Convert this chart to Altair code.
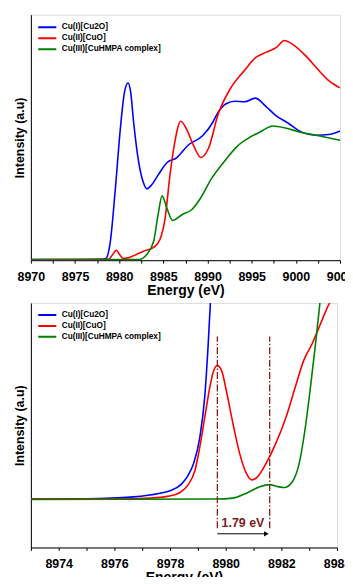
import altair as alt
import pandas as pd

FONT = "Liberation Sans"
series = ["Cu(I)[Cu2O]", "Cu(II)[CuO]", "Cu(III)[CuHMPA complex]"]
colors = ["#0000FF", "#FF0000", "#008000"]

# ---- top panel: full XANES (normalised intensity)
top_e_blue = [8970, 8976, 8978.0, 8978.5, 8979.0, 8979.57, 8980.13, 8980.6, 8981.0, 8981.3, 8981.63,
              8982.2, 8982.7, 8983.13, 8983.6, 8984.5, 8985.4, 8986.5, 8987.8, 8989.5, 8990.6, 8991.0,
              8992.1, 8993.1, 8994.2, 8995.4, 8996.6, 8997.7, 8999.1, 9000.7, 9002.3, 9003.7, 9005]
top_i_blue = [0.005, 0.005, 0.006, 0.012, 0.131, 0.498, 0.911, 1.163, 1.227, 1.163, 0.957,
              0.681, 0.544, 0.494, 0.516, 0.599, 0.675, 0.709, 0.796, 0.865, 0.955, 1.003,
              1.083, 1.100, 1.097, 1.122, 1.065, 1.003, 0.950, 0.885, 0.865, 0.870, 0.895]

top_e_red = [8970, 8978.8, 8979.2, 8979.68, 8980.1, 8980.5, 8981.0, 8982.0, 8982.75, 8983.9, 8984.6,
             8985.2, 8985.75, 8986.3, 8986.96, 8987.6, 8988.4, 8989.25, 8990.1, 8991.2, 8992.6,
             8994.2, 8995.4, 8996.6, 8997.8, 8998.7, 8999.6, 9001.1, 9002.6, 9003.8, 9005]
top_i_red = [0.005, 0.006, 0.034, 0.069, 0.034, 0.012, 0.016, 0.041, 0.062, 0.089, 0.142,
             0.291, 0.590, 0.819, 0.962, 0.911, 0.796, 0.711, 0.773, 1.010, 1.190,
             1.315, 1.400, 1.439, 1.473, 1.521, 1.496, 1.416, 1.313, 1.239, 1.193]

top_e_green = [8970, 8982.2, 8982.7, 8983.1, 8983.9, 8984.4, 8984.86, 8985.4, 8986.06, 8987.1, 8988.2,
               8989.2, 8990.4, 8991.9, 8993.3, 8994.5, 8995.95, 8997.4, 8998.8, 9000.4, 9002.3, 9005]
top_i_green = [0.003, 0.004, 0.014, 0.039, 0.131, 0.315, 0.445, 0.360, 0.275, 0.315, 0.349,
               0.429, 0.560, 0.683, 0.785, 0.840, 0.888, 0.929, 0.915, 0.888, 0.865, 0.831]

# ---- bottom panel: pre-edge region (zoomed, own intensity units)
bot_e_blue = [8973, 8975, 8976.69, 8977.64, 8978.0, 8978.4, 8978.65, 8978.85, 8979.07, 8979.25,
              8979.37, 8979.45, 8979.55, 8979.65]
bot_i_blue = [0.198, 0.199, 0.207, 0.222, 0.232, 0.258, 0.295, 0.345, 0.45, 0.62,
              0.83, 1.0, 1.25, 1.5]

bot_e_red = [8973, 8976, 8977.3, 8977.9, 8978.36, 8978.65, 8978.9, 8979.07, 8979.25, 8979.43, 8979.55,
             8979.69, 8979.85, 8980.02, 8980.26, 8980.5, 8980.74, 8980.94, 8981.15, 8981.45, 8981.8,
             8982.17, 8982.5, 8982.8, 8983.1, 8983.4, 8983.65, 8983.77, 8984]
bot_i_red = [0.198, 0.198, 0.202, 0.209, 0.225, 0.256, 0.317, 0.412, 0.534, 0.656, 0.717,
             0.744, 0.724, 0.642, 0.507, 0.385, 0.304, 0.276, 0.290, 0.344, 0.426,
             0.534, 0.656, 0.764, 0.832, 0.913, 0.981, 1.008, 1.06]

bot_e_green = [8973, 8979.67, 8980.26, 8980.74, 8981.2, 8981.57, 8981.87, 8982.1, 8982.4, 8982.64,
               8982.88, 8983.06, 8983.24, 8983.38, 8983.5]
bot_i_green = [0.196, 0.198, 0.202, 0.222, 0.247, 0.257, 0.249, 0.245, 0.270, 0.344,
               0.507, 0.670, 0.846, 0.995, 1.12]

# ---- annotation of the bottom panel
peak_e = [8979.7, 8981.58]
guide_lo, guide_hi = 0.079, 0.863
arrow_y = 0.056
shift_label = "1.79 eV"
label_e, label_y = 8980.62, 0.10

top_ticks = [8970 + 2.5 * i for i in range(15)]
bot_ticks = list(range(8973, 8985))


def frame(es, is_, name):
    return pd.DataFrame({"energy": es, "intensity": is_, "series": name})


top_df = pd.concat([frame(top_e_blue, top_i_blue, series[0]),
                    frame(top_e_red, top_i_red, series[1]),
                    frame(top_e_green, top_i_green, series[2])])
bot_df = pd.concat([frame(bot_e_blue, bot_i_blue, series[0]),
                    frame(bot_e_red, bot_i_red, series[1]),
                    frame(bot_e_green, bot_i_green, series[2])])


def legend(ly):
    return alt.Legend(title=None, orient="none", legendX=6, legendY=ly, symbolType="stroke",
                      symbolSize=330, symbolStrokeWidth=2, labelFont=FONT, labelFontSize=8.3,
                      labelFontWeight="bold", labelOffset=4, rowPadding=0, clipHeight=10.2,
                      padding=0, labelColor="black")


def x_axis(ticks, step):
    return alt.Axis(title="Energy (eV)", values=ticks, tickSize=3, labelPadding=7,
                    labelExpr=f"datum.value % {step} == 0 ? format(datum.value, 'd') : ''",
                    labelFlush=False, labelOverlap=False, labelBound=False, grid=False,
                    labelFont=FONT, labelFontSize=12.5, labelFontWeight="bold", labelColor="black",
                    titleFont=FONT, titleFontSize=14, titleFontWeight="bold", titleColor="black",
                    titlePadding=1, domainColor="black", tickColor="black")


def y_axis():
    return alt.Axis(title="Intensity (a.u)", labels=False, ticks=False, grid=False,
                    titleFont=FONT, titleFontSize=12.5, titleFontWeight="bold", titleColor="black",
                    titlePadding=4, domainColor="black")


def color(ly):
    return alt.Color("series:N", scale=alt.Scale(domain=series, range=colors), legend=legend(ly))


def xb(field="energy"):
    return alt.X(f"{field}:Q", scale=alt.Scale(domain=[8973, 8984], nice=False, zero=False),
                 axis=x_axis(bot_ticks, 2))


def yb(field="intensity"):
    return alt.Y(f"{field}:Q", scale=alt.Scale(domain=[0, 1], nice=False), axis=y_axis())


top = alt.Chart(top_df).mark_line(clip=True, strokeWidth=1.6, interpolate="monotone").encode(
    x=alt.X("energy:Q", scale=alt.Scale(domain=[8970, 9005], nice=False, zero=False), axis=x_axis(top_ticks, 5)),
    y=alt.Y("intensity:Q", scale=alt.Scale(domain=[0, 1.7], nice=False), axis=y_axis()),
    color=color(7.6),
).properties(width=311, height=247)

bot_lines = alt.Chart(bot_df).mark_line(clip=True, strokeWidth=1.6, interpolate="monotone").encode(
    x=xb(), y=yb(), color=color(7))

guide_df = pd.DataFrame({"energy": peak_e, "lo": [guide_lo] * 2, "hi": [guide_hi] * 2})
guides = alt.Chart(guide_df).mark_rule(color="#8B1A1A", strokeWidth=1.3, strokeDash=[7, 2, 1.5, 2]).encode(
    x=xb(), y=yb("lo"), y2="hi:Q")

arrow_df = pd.DataFrame({"energy": [peak_e[0]], "end": [peak_e[1] - 0.12], "intensity": [arrow_y]})
arrow = alt.Chart(arrow_df).mark_rule(color="black", strokeWidth=1).encode(
    x=xb(), x2="end:Q", y=yb())
head_df = pd.DataFrame({"energy": [peak_e[1] - 0.12], "intensity": [arrow_y]})
head = alt.Chart(head_df).mark_point(shape="triangle-right", filled=True, color="black", size=28, opacity=1).encode(
    x=xb(), y=yb())

text_df = pd.DataFrame({"energy": [label_e], "intensity": [label_y], "t": [shift_label]})
label = alt.Chart(text_df).mark_text(font=FONT, fontSize=12.5, fontWeight="bold", color="#7B1C1C").encode(
    x=xb(), y=yb(), text="t:N")

bottom = alt.layer(bot_lines, guides, arrow, head, label).properties(width=308, height=246)

chart = alt.vconcat(top, bottom, spacing=4).resolve_scale(
    color="independent", x="independent", y="independent").resolve_legend(color="independent").properties(
    padding={"left": 5, "top": 4, "right": -10, "bottom": -10}
).configure_view(stroke="black", strokeWidth=1).configure(background="white")

chart.save("out.html", embed_options={"renderer": "svg", "actions": False})
